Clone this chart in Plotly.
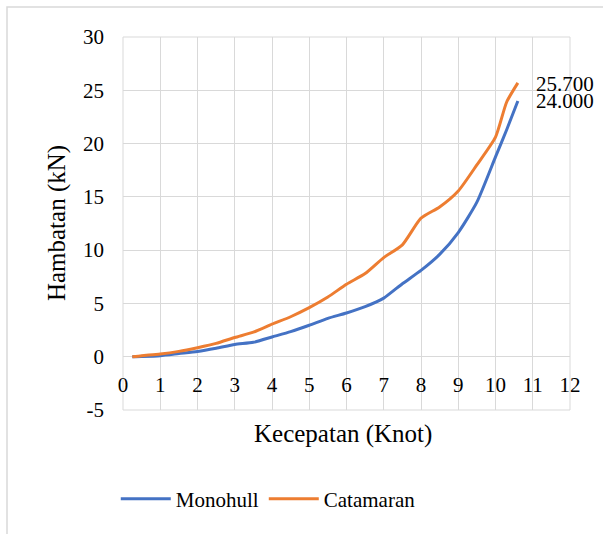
import plotly.graph_objects as go

speed = [0.25, 0.5, 1, 1.5, 2, 2.5, 3, 3.5, 4, 4.5, 5, 5.5, 6, 6.5, 7, 7.5, 8, 8.5, 9, 9.5, 10, 10.3, 10.6]
monohull = [0, 0.02, 0.1, 0.3, 0.5, 0.8, 1.15, 1.35, 1.85, 2.35, 2.95, 3.6, 4.1, 4.7, 5.5, 6.85, 8.1, 9.6, 11.65, 14.5, 18.75, 21.3, 24.0]
catamaran = [0, 0.1, 0.25, 0.5, 0.85, 1.25, 1.8, 2.3, 3.05, 3.75, 4.6, 5.6, 6.8, 7.8, 9.3, 10.5, 13.0, 14.05, 15.55, 18.0, 20.6, 23.9, 25.7]
series_names = ["Monohull", "Catamaran"]
series_colors = ["#4472C4", "#ED7D31"]
x_ticks = list(range(0, 13))
y_ticks = list(range(-5, 31, 5))
y_ticktext = [str(v) for v in y_ticks]

FONT = "Liberation Serif"
GRID = "#d9d9d9"

fig = go.Figure()
for name, vals, col in zip(series_names, [monohull, catamaran], series_colors):
    fig.add_trace(go.Scatter(x=speed, y=vals, name=name, mode="lines",
                             line=dict(color=col, width=3, shape="spline", smoothing=0.6)))

for vals, ys in zip([catamaran, monohull], [-1, 0]):
    fig.add_annotation(x=speed[-1], y=vals[-1], text=f"{vals[-1]:.3f}", showarrow=False,
                       xanchor="left", yanchor="middle", xshift=16, yshift=ys,
                       font=dict(family=FONT, size=21, color="black"))

fig.update_layout(
    width=603, height=534,
    margin=dict(l=123, r=33, t=37, b=124),
    paper_bgcolor="white", plot_bgcolor="white",
    font=dict(family=FONT, size=21, color="black"),
    showlegend=True,
    legend=dict(orientation="h", x=0.325, xanchor="center", y=-0.2386, yanchor="middle",
                font=dict(family=FONT, size=21, color="black"), itemwidth=50,
                bgcolor="rgba(0,0,0,0)"),
    xaxis=dict(range=[0, 12], tickvals=x_ticks, showgrid=True, gridcolor=GRID, gridwidth=1,
               zeroline=False, showline=False, anchor="free", position=5/35,
               ticks="", ticklabelstandoff=13, tickfont=dict(family=FONT, size=21, color="black")),
    yaxis=dict(range=[-5, 30], tickvals=y_ticks, ticktext=y_ticktext, showgrid=True,
               gridcolor=GRID, gridwidth=1,
               zeroline=True, zerolinecolor=GRID, zerolinewidth=1, showline=False,
               ticks="", ticklabelstandoff=18, tickfont=dict(family=FONT, size=21, color="black")),
    shapes=[
        dict(type="rect", xref="paper", yref="paper", x0=0, x1=1, y0=0, y1=1,
             line=dict(color=GRID, width=1), layer="below"),
        dict(type="rect", xref="paper", yref="paper", x0=-0.2595, x1=1.3, y0=-0.6, y1=1.0804,
             line=dict(color=GRID, width=1.5), layer="below"),
    ],
)
fig.add_annotation(xref="paper", yref="paper", x=0.4915, y=-0.0643, text="Kecepatan (Knot)",
                   showarrow=False, xanchor="center", yanchor="middle",
                   font=dict(family=FONT, size=25, color="black"))
fig.add_annotation(xref="paper", yref="paper", x=-0.1477, y=0.501, text="Hambatan (kN)",
                   showarrow=False, xanchor="center", yanchor="middle", textangle=-90,
                   font=dict(family=FONT, size=25, color="black"))

fig.write_html("out.html")
